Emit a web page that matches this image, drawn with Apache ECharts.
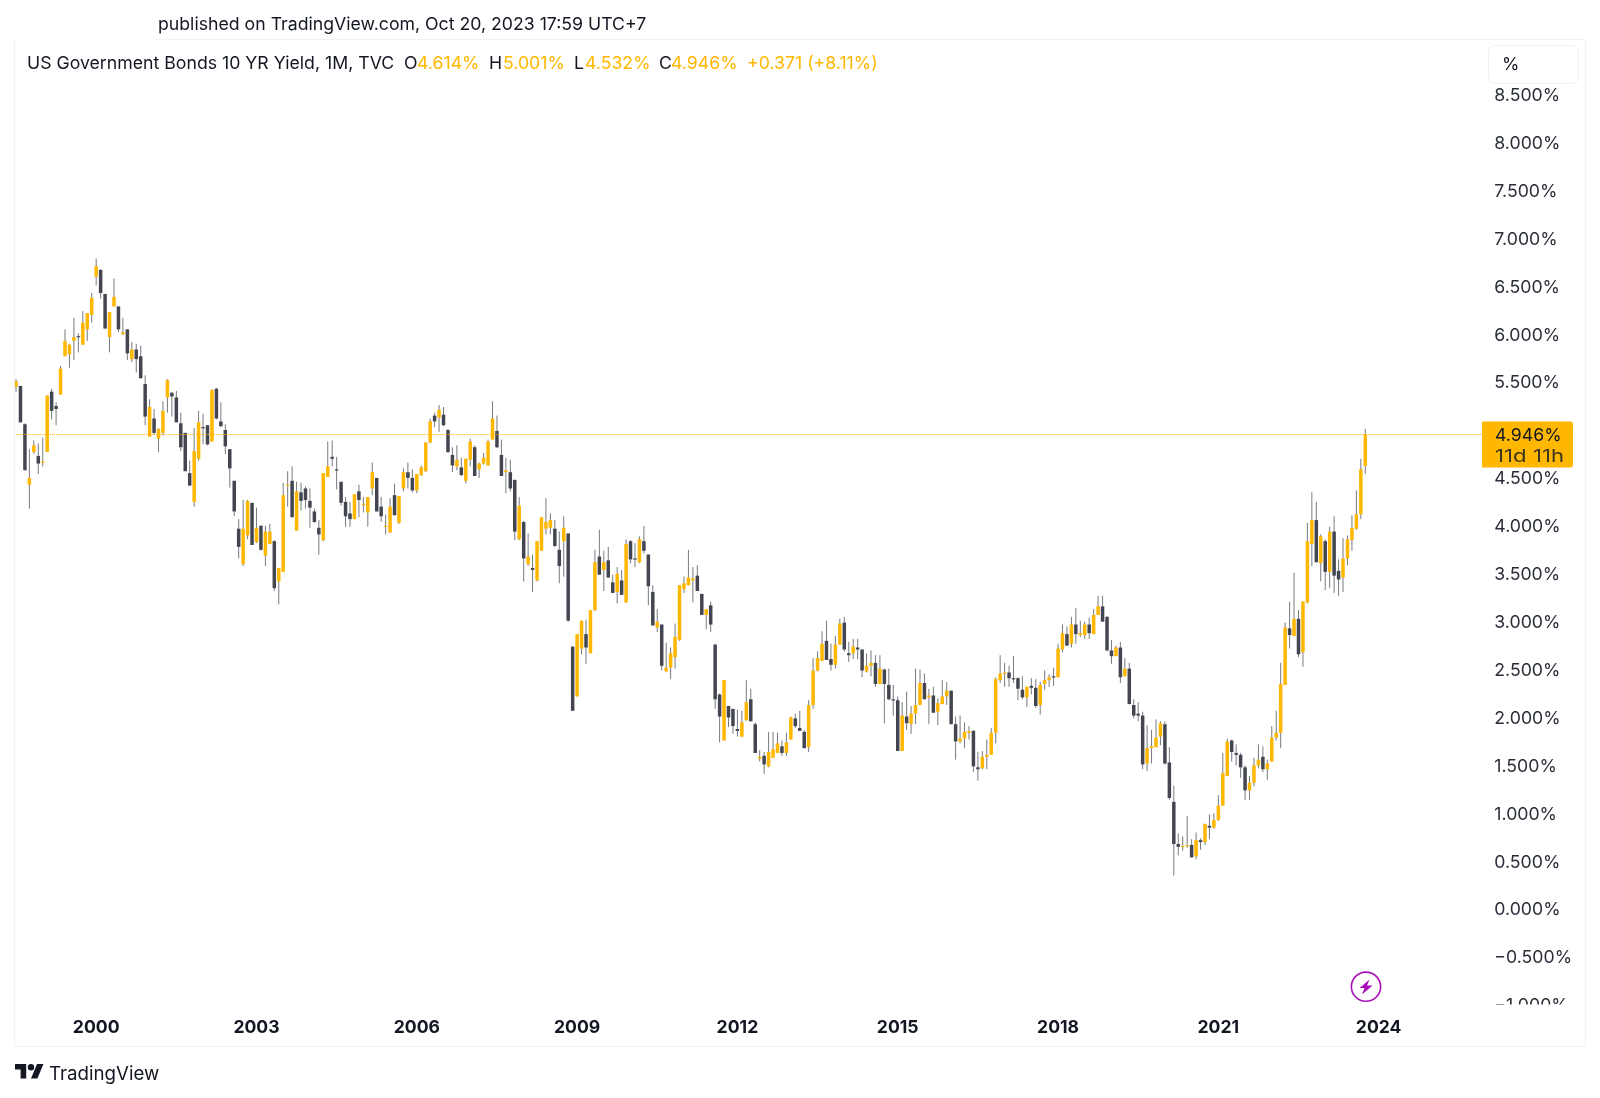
<!DOCTYPE html>
<html>
<head>
<meta charset="utf-8">
<style>html,body{margin:0;padding:0;background:#fff}#c{width:1600px;height:1098px}</style>
<script src="https://cdn.jsdelivr.net/npm/echarts@6/dist/echarts.min.js"></script>
</head>
<body>
<div id="c"></div>
<script>
const yearTicks = ['2000','2003','2006','2009','2012','2015','2018','2021','2024'];
const lastPrice = 4.946;

const opens = [
5.44,5.45,5.05,4.42,4.76,4.72,4.65,4.76,5.39,5.24,
5.36,5.76,5.78,5.92,5.97,5.88,6.04,6.19,6.59,6.66,
6.41,5.96,6.28,6.28,5.99,6.04,5.73,5.83,5.76,5.47,
4.92,5.11,4.90,4.96,5.33,5.38,5.33,5.06,4.96,4.54,
4.24,4.69,5.02,5.04,4.87,5.42,5.08,4.99,4.79,4.46,
3.96,3.59,3.89,4.23,3.82,3.99,3.68,3.80,3.83,3.41,
3.51,4.41,4.46,3.94,4.34,4.38,4.25,4.14,3.97,3.84,
4.50,4.71,4.58,4.45,4.24,4.12,4.06,4.35,4.21,4.13,
4.38,4.49,4.19,3.98,3.92,4.31,4.02,4.38,4.55,4.49,
4.36,4.52,4.56,4.86,5.14,5.12,5.15,4.99,4.73,4.61,
4.60,4.46,4.68,4.81,4.58,4.64,4.62,4.89,4.98,4.73,
4.55,4.55,4.47,3.85,4.03,3.59,3.55,3.42,3.73,3.96,
3.97,3.96,3.74,3.83,3.91,2.73,2.21,2.71,2.86,2.66,
3.11,3.67,3.53,3.63,3.40,3.30,3.42,3.19,3.83,3.65,
3.61,3.83,3.69,3.30,2.93,2.96,2.47,2.51,2.62,2.80,
3.33,3.37,3.42,3.47,3.28,3.06,3.16,2.75,2.23,1.75,
2.11,2.08,1.87,1.79,1.96,2.18,1.92,1.56,1.59,1.48,
1.57,1.62,1.69,1.62,1.76,1.98,1.88,1.84,1.68,2.12,
2.48,2.58,2.79,2.60,2.54,2.75,2.98,2.66,2.66,2.72,
2.70,2.47,2.53,2.56,2.34,2.49,2.33,2.18,2.17,1.64,
2.00,1.92,2.03,2.12,2.35,2.20,2.22,2.05,2.13,2.21,
2.27,1.92,1.74,1.77,1.83,1.85,1.47,1.46,1.58,1.60,
1.83,2.38,2.45,2.46,2.40,2.40,2.28,2.20,2.32,2.30,
2.12,2.34,2.38,2.42,2.41,2.70,2.86,2.76,2.96,2.85,
2.85,2.96,2.86,3.06,3.15,3.04,2.69,2.63,2.72,2.42,
2.50,2.12,2.03,2.01,1.51,1.67,1.68,1.79,1.92,1.52,
1.11,0.67,0.64,0.65,0.66,0.54,0.71,0.69,0.86,0.84,
0.92,1.07,1.38,1.75,1.62,1.60,1.47,1.23,1.31,1.49,
1.58,1.45,1.53,1.78,1.83,2.33,2.92,2.84,3.02,2.67,
3.19,3.80,4.05,3.60,3.83,3.51,3.93,3.52,3.45,3.65,
3.84,3.96,4.11,4.614];

const closes = [
5.50,5.07,4.57,4.49,4.83,4.64,4.66,5.35,5.19,5.21,
5.63,5.92,5.88,5.96,5.96,6.11,6.21,6.37,6.70,6.42,
6.05,6.22,6.38,6.04,6.01,5.79,5.83,5.73,5.53,5.13,
5.23,4.96,5.00,5.19,5.51,5.34,5.07,4.81,4.56,4.41,
4.77,5.07,5.01,4.84,5.41,5.11,5.03,4.82,4.59,4.14,
3.77,3.96,4.25,3.79,3.97,3.74,3.93,3.93,3.34,3.55,
4.31,4.42,4.08,4.35,4.25,4.26,4.18,4.03,3.90,4.54,
4.61,4.69,4.57,4.23,4.09,4.06,4.32,4.26,4.22,4.29,
4.55,4.14,4.09,3.99,4.19,4.10,4.30,4.55,4.49,4.36,
4.53,4.60,4.86,5.08,5.08,5.20,5.04,4.76,4.62,4.68,
4.52,4.69,4.87,4.51,4.64,4.70,4.87,5.11,4.81,4.51,
4.57,4.38,3.93,4.20,3.65,3.67,3.53,3.83,4.08,4.03,
4.05,3.78,3.57,3.97,3.00,2.06,2.86,3.00,2.72,3.11,
3.61,3.48,3.61,3.45,3.29,3.49,3.27,3.80,3.64,3.64,
3.85,3.73,3.36,2.95,2.99,2.53,2.51,2.66,2.83,3.37,
3.39,3.45,3.44,3.31,3.06,3.12,2.96,2.18,2.00,2.38,
1.99,1.90,1.85,1.94,2.15,1.95,1.62,1.58,1.50,1.63,
1.66,1.72,1.62,1.73,1.99,1.90,1.85,1.67,2.12,2.48,
2.61,2.76,2.59,2.54,2.75,2.97,2.70,2.64,2.73,2.70,
2.48,2.53,2.56,2.34,2.50,2.34,2.18,2.17,1.64,2.01,
1.93,2.03,2.12,2.35,2.18,2.22,2.04,2.14,2.21,2.27,
1.92,1.74,1.77,1.84,1.85,1.48,1.45,1.58,1.60,1.83,
2.39,2.45,2.46,2.40,2.39,2.29,2.20,2.31,2.30,2.11,
2.33,2.38,2.41,2.41,2.71,2.87,2.74,2.96,2.86,2.87,
2.96,2.87,3.06,3.15,2.99,2.69,2.63,2.72,2.41,2.50,
2.13,2.01,2.01,1.50,1.67,1.69,1.78,1.93,1.51,1.15,
0.67,0.64,0.65,0.66,0.53,0.71,0.69,0.88,0.84,0.92,
1.07,1.41,1.74,1.63,1.60,1.47,1.23,1.31,1.49,1.55,
1.45,1.51,1.78,1.83,2.34,2.93,2.85,3.02,2.65,3.20,
3.83,4.05,3.61,3.88,3.51,3.93,3.47,3.43,3.65,3.85,
3.97,4.11,4.58,4.946];

const lows = [
5.39,5.07,4.57,4.17,4.74,4.53,4.61,4.76,5.10,5.04,
5.36,5.76,5.64,5.72,5.80,5.88,5.92,6.11,6.50,6.36,
6.04,5.80,6.28,6.01,5.98,5.72,5.70,5.59,5.53,5.04,
4.92,4.94,4.76,4.93,5.17,5.13,5.07,4.77,4.56,4.41,
4.19,4.67,4.84,4.83,4.87,5.10,5.02,4.74,4.39,4.09,
3.65,3.57,3.85,3.79,3.81,3.73,3.57,3.80,3.31,3.17,
3.51,4.19,4.08,3.94,4.15,4.17,3.97,4.02,3.69,3.83,
4.50,4.61,4.37,4.20,3.98,3.98,4.06,4.08,4.13,3.98,
4.31,4.14,4.03,3.90,3.92,4.10,4.01,4.35,4.38,4.34,
4.33,4.51,4.55,4.85,5.02,4.97,5.03,4.75,4.55,4.57,
4.51,4.43,4.61,4.51,4.49,4.63,4.62,4.89,4.80,4.51,
4.33,4.35,3.84,3.84,3.41,3.57,3.30,3.41,3.73,3.90,
3.90,3.77,3.39,3.46,2.99,2.06,2.21,2.65,2.55,2.66,
3.10,3.48,3.31,3.45,3.29,3.18,3.27,3.19,3.60,3.56,
3.60,3.70,3.16,2.95,2.88,2.48,2.47,2.39,2.50,2.79,
3.29,3.37,3.19,3.31,3.06,2.91,2.88,2.08,1.73,1.75,
1.89,1.82,1.79,1.79,1.96,1.95,1.62,1.53,1.40,1.47,
1.57,1.62,1.59,1.59,1.76,1.88,1.85,1.67,1.63,2.08,
2.47,2.58,2.59,2.48,2.50,2.75,2.68,2.57,2.60,2.60,
2.41,2.46,2.42,2.31,2.34,1.93,2.17,2.01,1.64,1.64,
1.86,1.82,1.92,2.12,2.18,1.92,2.04,1.91,2.13,2.12,
1.92,1.55,1.72,1.67,1.76,1.42,1.33,1.45,1.45,1.60,
1.72,2.35,2.31,2.31,2.35,2.17,2.18,2.10,2.23,2.09,
2.02,2.28,2.31,2.32,2.41,2.67,2.74,2.72,2.76,2.83,
2.81,2.81,2.86,3.06,2.99,2.68,2.55,2.63,2.35,2.42,
2.13,1.98,1.95,1.45,1.43,1.51,1.68,1.70,1.50,1.13,
0.34,0.55,0.60,0.63,0.53,0.51,0.61,0.66,0.72,0.83,
0.91,1.07,1.38,1.53,1.49,1.36,1.13,1.13,1.27,1.46,
1.42,1.34,1.53,1.75,1.67,2.33,2.71,2.84,2.62,2.52,
3.18,3.57,3.61,3.41,3.32,3.34,3.29,3.26,3.30,3.58,
3.73,3.95,4.06,4.532];

const highs = [
5.52,5.45,5.06,4.79,4.88,4.85,4.91,5.35,5.42,5.28,
5.66,6.04,5.89,6.16,6.00,6.23,6.21,6.42,6.78,6.67,
6.41,6.22,6.57,6.28,6.16,6.04,5.91,5.89,5.87,5.56,
5.31,5.21,5.01,5.29,5.52,5.38,5.40,5.17,4.96,4.67,
5.01,5.19,5.16,5.04,5.41,5.43,5.28,5.05,4.79,4.46,
4.06,4.26,4.26,4.23,4.18,4.00,3.99,4.01,3.84,3.55,
4.44,4.56,4.61,4.45,4.44,4.40,4.38,4.17,4.05,4.54,
4.87,4.88,4.71,4.45,4.29,4.24,4.32,4.42,4.29,4.29,
4.65,4.49,4.29,4.11,4.28,4.43,4.30,4.59,4.65,4.58,
4.53,4.62,4.86,5.11,5.17,5.25,5.23,5.00,4.81,4.83,
4.70,4.69,4.90,4.83,4.65,4.75,4.89,5.29,5.14,4.89,
4.70,4.68,4.47,4.29,4.04,3.91,3.69,3.83,4.08,4.28,
4.12,4.05,3.93,4.09,3.91,2.73,2.86,3.00,3.01,3.11,
3.74,3.95,3.73,3.77,3.48,3.56,3.53,3.85,3.84,3.81,
3.88,3.99,3.69,3.37,3.12,2.96,2.77,2.72,2.97,3.37,
3.46,3.74,3.56,3.58,3.28,3.12,3.20,2.76,2.24,2.38,
2.11,2.08,2.07,2.06,2.38,2.29,1.94,1.65,1.63,1.84,
1.84,1.83,1.75,1.83,2.00,2.03,2.06,1.86,2.17,2.61,
2.68,2.89,3.00,2.76,2.84,3.02,3.04,2.78,2.81,2.81,
2.70,2.66,2.69,2.64,2.64,2.50,2.50,2.33,2.21,2.15,
2.26,2.11,2.50,2.49,2.45,2.29,2.31,2.19,2.38,2.36,
2.27,2.00,2.01,1.94,1.90,1.86,1.63,1.64,1.76,1.88,
2.41,2.64,2.56,2.53,2.63,2.41,2.42,2.31,2.40,2.39,
2.36,2.48,2.44,2.51,2.76,2.96,2.94,3.04,3.13,3.00,
2.99,3.03,3.12,3.26,3.26,3.05,2.80,2.74,2.78,2.61,
2.56,2.18,2.15,2.05,1.91,1.86,1.97,1.95,1.95,1.68,
1.28,0.78,0.75,0.96,0.72,0.79,0.73,0.88,0.98,0.99,
1.18,1.62,1.77,1.76,1.71,1.62,1.49,1.38,1.57,1.71,
1.69,1.55,1.90,2.06,2.56,2.98,3.20,3.50,3.11,3.20,
4.02,4.34,4.24,3.90,3.85,3.98,4.09,3.64,3.86,3.89,
4.10,4.36,4.69,5.001];

// Monthly categories: Jul 1998 onward, with empty months to the right of the last candle.
const months = [];
for (let i = 0; i < 330; i++) {
  const m = 6 + i;
  months.push((1998 + Math.floor(m / 12)) + '-' + String(m % 12 + 1).padStart(2, '0'));
}

const UP = '#ffb700', DOWN = '#434651', WICK = 'rgba(67,70,81,0.72)', TXT = '#131722';
const FRAME = '#eef1f8', FONT = 'Inter, "Noto Sans", sans-serif';

const ohlc = opens.map((o, i) => [months[i], o, closes[i], lows[i], highs[i]]);

function renderCandle(params, api) {
  const idx = params.dataIndex;
  const o = api.value(1), c = api.value(2), l = api.value(3), h = api.value(4);
  const x = api.coord([idx, o])[0];
  const yo = api.coord([idx, o])[1], yc = api.coord([idx, c])[1];
  const yl = api.coord([idx, l])[1], yh = api.coord([idx, h])[1];
  const top = Math.min(yo, yc), ht = Math.max(Math.abs(yo - yc), 1.2);
  return {
    type: 'group',
    children: [
      { type: 'line', shape: { x1: x, y1: yh, x2: x, y2: yl }, style: { stroke: WICK, lineWidth: 1 } },
      { type: 'rect', shape: { x: x - 1.75, y: top, width: 3.5, height: ht }, style: { fill: c >= o ? UP : DOWN } }
    ]
  };
}

const BASE_FONT = '17.7px ' + FONT;
const txt = (text, x, y, fill, font, scaleX) => ({
  type: 'text', x, y, z: 110, silent: true, scaleX: scaleX || 1,
  style: { text, fill: fill || TXT, font: font || BASE_FONT, textAlign: 'left', textVerticalAlign: 'middle' }
});
const hLine = (x1, x2, y) => ({ type: 'line', z: 90, silent: true, shape: { x1, y1: y, x2, y2: y }, style: { stroke: FRAME, lineWidth: 1 } });
const vLine = (x, y1, y2) => ({ type: 'line', z: 90, silent: true, shape: { x1: x, y1, x2: x, y2 }, style: { stroke: FRAME, lineWidth: 1 } });

const chart = echarts.init(document.getElementById('c'), null, { renderer: 'canvas' });
chart.setOption({
  animation: false,
  backgroundColor: '#ffffff',
  grid: { left: 13.8, top: 40, width: 1469.5, height: 964, containLabel: false },
  xAxis: {
    type: 'category',
    data: months,
    boundaryGap: true,
    axisLine: { show: false },
    axisTick: { show: false },
    splitLine: { show: false },
    axisLabel: {
      interval: (i, v) => v.endsWith('-01') && yearTicks.includes(v.slice(0, 4)),
      formatter: v => v.slice(0, 4),
      margin: 15,
      color: TXT,
      fontFamily: FONT,
      fontWeight: 700,
      fontSize: 17.6
    }
  },
  yAxis: {
    type: 'value',
    position: 'right',
    min: -1,
    max: 9.06,
    interval: 0.5,
    axisLine: { show: false },
    axisTick: { show: false },
    splitLine: { show: false },
    axisLabel: {
      inside: false,
      margin: 11,
      align: 'left',
      color: '#2a2e39',
      fontFamily: FONT,
      fontSize: 17.7,
      formatter: v => (v > 8.6 ? '' : '{p|' + v.toFixed(3).replace('-', '\u2212') + '%}'),
      rich: { p: { padding: [4, 0, 0, 0], color: '#2a2e39', fontFamily: FONT, fontSize: 17.7 } }
    }
  },
  series: [{
    name: 'US Government Bonds 10 YR Yield',
    type: 'custom',
    renderItem: renderCandle,
    data: ohlc,
    encode: { x: 0, y: [1, 2, 3, 4] },
    clip: false,
    markLine: {
      silent: true,
      symbol: 'none',
      label: { show: false },
      lineStyle: { color: UP, type: 'dotted', width: 1 },
      data: [{ yAxis: lastPrice }]
    }
  }],
  graphic: { elements: [
    // mask that cuts the lowest price label in half
    { type: 'rect', z: 80, silent: true, shape: { x: 1486, y: 1004.5, width: 99, height: 41 }, style: { fill: '#fff' } },
    hLine(155, 1585.5, 39.5), hLine(14.5, 1585.5, 1046.5), vLine(14.5, 39.5, 1046.5), vLine(1585.5, 39.5, 1046.5),
    txt('published on TradingView.com, Oct 20, 2023 17:59 UTC+7', 158, 25),
    txt('US Government Bonds 10 YR Yield, 1M, TVC', 27, 63.5),
    txt('O', 404, 63.5), txt('4.614%', 417, 63.5, UP),
    txt('H', 489, 63.5), txt('5.001%', 503, 63.5, UP),
    txt('L', 574, 63.5), txt('4.532%', 585, 63.5, UP),
    txt('C', 659, 63.5), txt('4.946%', 671, 63.5, UP),
    txt('+0.371 (+8.11%)', 747, 63.5, UP),
    { type: 'rect', z: 100, silent: true, shape: { x: 1488.5, y: 45.5, width: 90, height: 38, r: 6 }, style: { fill: '#fff', stroke: FRAME, lineWidth: 1 } },
    txt('%', 1502, 64.5),
    { type: 'rect', z: 100, silent: true, shape: { x: 1482, y: 421.5, width: 91, height: 46, r: [0, 3, 3, 0] }, style: { fill: UP } },
    txt('4.946%', 1495, 435.5, TXT),
    txt('11d', 1495, 456.5, '#3a3420', BASE_FONT, 1.25),
    txt('11h', 1533, 456.5, '#3a3420', BASE_FONT, 1.25),
    { type: 'circle', z: 100, silent: true, shape: { cx: 1366, cy: 986.7, r: 14.6 }, style: { fill: '#fff', stroke: '#a90fb8', lineWidth: 1.6 } },
    { type: 'polygon', z: 105, silent: true, shape: { points: [[1369.5,979.5],[1359.7,988],[1364.5,988],[1362,994.5],[1372.7,985.5],[1367,985.5]] }, style: { fill: '#a90fb8' } },
    { type: 'polygon', z: 110, silent: true, shape: { points: [[15,1064],[26.2,1064],[26.2,1078.4],[20.6,1078.4],[20.6,1069.6],[15,1069.6]] }, style: { fill: TXT } },
    { type: 'polygon', z: 110, silent: true, shape: { points: [[31,1078.4],[37,1064],[43.4,1064],[37.4,1078.4]] }, style: { fill: TXT } },
    { type: 'circle', z: 110, silent: true, shape: { cx: 31, cy: 1067.2, r: 3.2 }, style: { fill: TXT } },
    txt('TradingView', 49, 1074, TXT, '18.7px ' + FONT)
  ] }
});
</script>
</body>
</html>
